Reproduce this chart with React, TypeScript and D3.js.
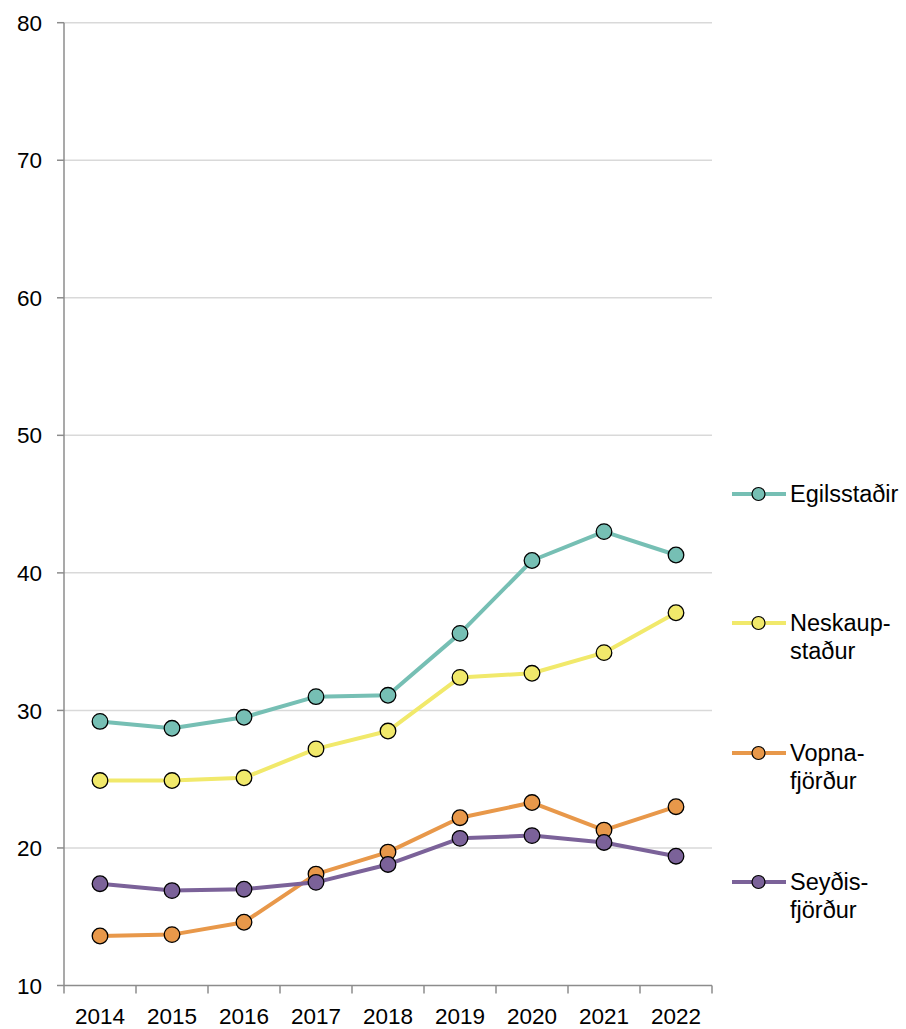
import React from "react";
import * as d3 from "d3";

const years = ["2014", "2015", "2016", "2017", "2018", "2019", "2020", "2021", "2022"];
const egilsstadir = [29.2, 28.7, 29.5, 31.0, 31.1, 35.6, 40.9, 43.0, 41.3];
const neskaupstadur = [24.9, 24.9, 25.1, 27.2, 28.5, 32.4, 32.7, 34.2, 37.1];
const vopnafjordur = [13.6, 13.7, 14.6, 18.1, 19.7, 22.2, 23.3, 21.3, 23.0];
const seydisfjordur = [17.4, 16.9, 17.0, 17.5, 18.8, 20.7, 20.9, 20.4, 19.4];
const yTicks = [10, 20, 30, 40, 50, 60, 70, 80];

const series = [
  { name: ["Egilsstaðir"], values: egilsstadir, color: "#76bfb4" },
  { name: ["Neskaup-", "staður"], values: neskaupstadur, color: "#f1e96b" },
  { name: ["Vopna-", "fjörður"], values: vopnafjordur, color: "#e8984a" },
  { name: ["Seyðis-", "fjörður"], values: seydisfjordur, color: "#7b6299" },
];

const W = 906;
const H = 1029;
const left = 64;
const right = 712;
const top = 22.7;
const bottom = 985.5;
const font = "Arial, 'Liberation Sans', sans-serif";

export default function App() {
  const x = d3.scaleBand<string>().domain(years).range([left, right]).padding(0);
  const y = d3.scaleLinear().domain([10, 80]).range([bottom, top]);
  const cx = (yr: string) => (x(yr) as number) + x.bandwidth() / 2;
  const line = d3
    .line<number>()
    .x((_, i) => cx(years[i]))
    .y((v) => y(v));

  const legendY = [494, 623, 753, 882];
  const boundaries = years.map((yr) => x(yr) as number).concat([right]);

  return (
    <svg
      width={W}
      height={H}
      style={{ position: "absolute", left: 0, top: 0, background: "#fff" }}
      fontFamily={font}
    >
      {/* gridlines */}
      {yTicks.filter((t) => t !== 10).map((t) => (
        <line key={t} x1={left} x2={right} y1={y(t)} y2={y(t)} stroke="#d9d9d9" strokeWidth={1.5} />
      ))}
      {/* y axis */}
      <line x1={left} x2={left} y1={top} y2={bottom} stroke="#8c8c8c" strokeWidth={1.5} />
      {yTicks.map((t) => (
        <g key={t}>
          <line x1={57} x2={left} y1={y(t)} y2={y(t)} stroke="#8c8c8c" strokeWidth={1.5} />
          <text x={42} y={y(t)} dy="0.36em" textAnchor="end" fontSize={22.5} fill="#000">
            {t}
          </text>
        </g>
      ))}
      {/* x axis */}
      <line x1={left} x2={right} y1={bottom} y2={bottom} stroke="#8c8c8c" strokeWidth={1.5} />
      {boundaries.map((b, i) => (
        <line key={i} x1={b} x2={b} y1={bottom} y2={bottom + 8} stroke="#8c8c8c" strokeWidth={1.5} />
      ))}
      {years.map((yr) => (
        <text key={yr} x={cx(yr)} y={1023.5} textAnchor="middle" fontSize={22.5} fill="#000">
          {yr}
        </text>
      ))}
      {/* series */}
      {series.map((s) => (
        <g key={s.name.join("")}>
          <path d={line(s.values) || ""} fill="none" stroke={s.color} strokeWidth={4} strokeLinejoin="round" />
          {s.values.map((v, i) => (
            <circle key={i} cx={cx(years[i])} cy={y(v)} r={7.8} fill={s.color} stroke="#000" strokeWidth={1.3} />
          ))}
        </g>
      ))}
      {/* legend */}
      {series.map((s, i) => (
        <g key={"lg" + i} transform={`translate(0,${legendY[i]})`}>
          <line x1={732} x2={786} y1={0} y2={0} stroke={s.color} strokeWidth={4} />
          <circle cx={758.5} cy={0} r={6.5} fill={s.color} stroke="#000" strokeWidth={1.2} />
          {s.name.map((n, j) => (
            <text key={j} x={790} y={j * 28} dy="0.36em" fontSize={23.5} fill="#000">
              {n}
            </text>
          ))}
        </g>
      ))}
    </svg>
  );
}
